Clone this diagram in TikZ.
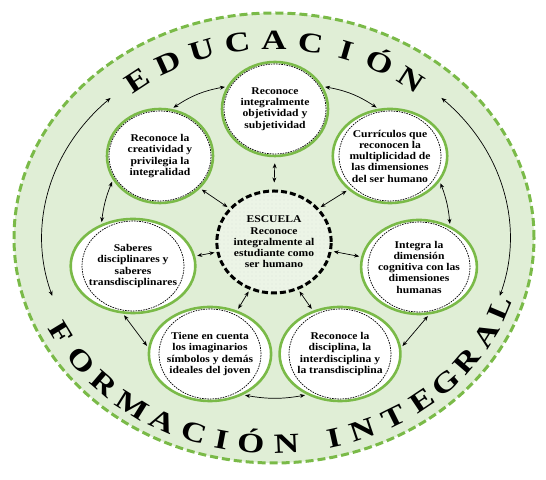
\documentclass[tikz,border=0pt]{standalone}
\usepackage{fontspec}
\setmainfont{Liberation Serif}[FakeStretch=1.12]
\newfontfamily\titulofont{Liberation Serif}[FakeStretch=1.25]
\usetikzlibrary{shapes.geometric,arrows.meta,patterns.meta}
\definecolor{verde}{RGB}{122,186,72}
\definecolor{verdeclaro}{RGB}{224,238,214}
\definecolor{verdecentro}{RGB}{236,244,230}
\tikzset{
  circulo/.style={ellipse,draw=verde,line width=2.6bp,fill=white,minimum width=106bp,minimum height=94bp,inner sep=0pt,align=center,font=\fontsize{10.4}{11.3}\selectfont\bfseries},
  flecha/.style={{Stealth[length=5bp,width=4bp]}-{Stealth[length=5bp,width=4bp]},line width=0.7bp,shorten <=2bp,shorten >=2bp},
  letra/.style={font={\titulofont\bfseries\fontsize{28}{28}\selectfont},inner sep=0pt,text height=19bp,text depth=0pt}
}
\begin{document}
\begin{tikzpicture}[x=1bp,y=1bp]
  \useasboundingbox (0,0) rectangle (546,480);
  %fondo
  \draw[verde,line width=3bp,dash pattern=on 8bp off 4bp,fill=verdeclaro] (274,242) ellipse [x radius=260,y radius=225];
  %letras
  \begin{scope}[shift={(274,242)}]
    \foreach \l/\t [count=\i] in {E/127,D/117.75,U/108.5,C/99.25,A/90,C/80.75,I/71.5,Ó/62.25,N/53}{
      \pgfmathsetmacro\rot{atan2(-198*cos(\t),228*sin(\t))}
      \node[letra,rotate=\rot] (edu\i) at (\t:228 and 198) {\l};
    }
    \foreach \l/\t [count=\i] in {F/-152.5,O/-143.5,R/-135,M/-126,A/-117.5,C/-109.5,I/-102.5,Ó/-95.5,N/-87,I/-75.5,N/-68.5,T/-60,E/-52,G/-44.5,R/-36.5,A/-28,L/-20}{
      \pgfmathsetmacro\rot{atan2(206*cos(\t),-240*sin(\t))}
      \node[letra,rotate=\rot] (form\i) at (\t:240 and 206) {\l};
    }
  \end{scope}
  %circulos
  \node[circulo] (arriba) at (275,371) {Reconoce\\integralmente\\objetividad y\\subjetividad};
  \node[circulo] (izqarriba) at (160,324) {Reconoce la\\creatividad y\\privilegia la\\integralidad};
  \node[circulo] (derarriba) at (390,324) {Currículos que\\reconocen la\\multiplicidad de\\las dimensiones\\del ser humano};
  \node[circulo] (izq) at (133,214) {Saberes\\disciplinares y\\saberes\\transdisciplinares};
  \node[circulo] (der) at (419,213) {Integra la\\dimensión\\cognitiva con las\\dimensiones\\humanas};
  \node[circulo] (izqabajo) at (210,126) {Tiene en cuenta\\los imaginarios\\símbolos y demás\\ideales del joven};
  \node[circulo] (derabajo) at (340,126) {Reconoce la\\disciplina, la\\interdisciplina y\\la transdisciplina};
  \foreach \n in {arriba,izqarriba,derarriba,izq,der,izqabajo,derabajo}
    \draw[line width=0.7bp,dash pattern=on 1.6bp off 1bp] (\n.center) ellipse [x radius=51,y radius=45];
  %escuela
  \node[ellipse,draw,line width=3bp,dash pattern=on 6bp off 3bp,preaction={fill=verdecentro},pattern={Dots[radius=0.3bp,distance=4bp]},pattern color=gray!45,minimum width=110bp,minimum height=102bp,inner sep=0pt,align=center,font=\fontsize{10.4}{11.3}\selectfont\bfseries] (escuela) at (274,238) {ESCUELA\\Reconoce\\integralmente al\\estudiante como\\ser humano};
  %flechas
  \draw[flecha] (arriba.155) to[bend right=12] (izqarriba.76);
  \draw[flecha] (arriba.25) to[bend left=12] (derarriba.104);
  \draw[flecha,shorten <=6bp,shorten >=7bp] (arriba.-90) -- (escuela.90);
  \draw[flecha] (izqarriba.-39) -- (escuela.143);
  \draw[flecha] (derarriba.-141) -- (escuela.37);
  \draw[flecha] (izqarriba.207) to[bend right=8] (izq.127);
  \draw[flecha] (derarriba.-27) to[bend left=8] (der.53);
  \draw[flecha] (izq.9) -- (escuela.190);
  \draw[flecha] (der.170) -- (escuela.-9);
  \draw[flecha] (escuela.-117) -- (izqabajo.58);
  \draw[flecha] (escuela.-63) -- (derabajo.122);
  \draw[flecha] (izq.-102) -- (izqabajo.174);
  \draw[flecha] (der.-78) -- (derabajo.6);
  \draw[flecha] (izqabajo.-51) to[bend right=10] (derabajo.-129);
  %flechas largas
  \coordinate (largaizq) at ([shift={(276,242)}]135:234 and 198);
  \coordinate (largader) at ([shift={(276,242)}]45:234 and 198);
  \draw[flecha,shorten <=0bp,shorten >=0bp] (largaizq) arc[start angle=135,end angle=197,x radius=234,y radius=198];
  \draw[flecha,shorten <=0bp,shorten >=0bp] (largader) arc[start angle=45,end angle=-17,x radius=234,y radius=198];
\end{tikzpicture}
\end{document}
